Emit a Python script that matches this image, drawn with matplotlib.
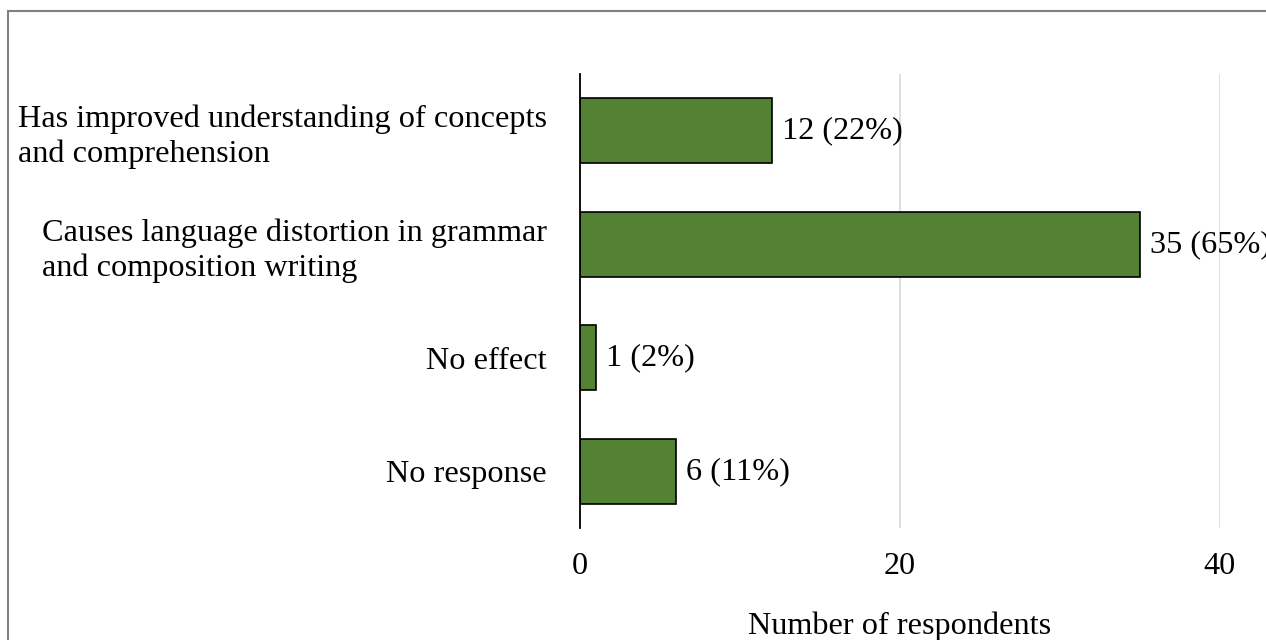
import matplotlib.pyplot as plt

# data
categories = [
    "Has improved understanding of concepts\nand comprehension",
    "Causes language distortion in grammar\nand composition writing",
    "No effect",
    "No response",
]
counts = [12, 35, 1, 6]
percents = [22, 65, 2, 11]
xticks = [0, 20, 40]

plt.rcParams['font.family'] = ['Liberation Serif', 'DejaVu Serif']
fs = 23.2

fig = plt.figure(figsize=(12.66, 6.4), dpi=100)
ax = fig.add_axes([580 / 1266, 1 - 528 / 640, 640 / 1266, 454 / 640])

y = list(range(len(categories)))
ax.barh(y, counts, height=0.57, color='#548235', edgecolor='black', linewidth=1.2, zorder=3)

for yi, c, p in zip(y, counts, percents):
    ax.text(c + 0.6, yi, f"{c} ({p}%)", va='center', ha='left', fontsize=fs, zorder=4)

ax.set_xlim(0, 40)
ax.set_ylim(3.5, -0.5)
ax.set_xticks(xticks)
ax.set_xticklabels([str(t) for t in xticks], fontsize=fs)
ax.set_yticks(y)
ax.set_yticklabels(categories, fontsize=fs, linespacing=1.25)
for lab in ax.get_yticklabels():
    lab.set_multialignment('left')
ax.tick_params(axis='y', length=0, pad=24)
ax.tick_params(axis='x', length=0, pad=17)

ax.grid(axis='x', color='#d9d9d9', linewidth=1.2, zorder=0)
for s in ['top', 'right', 'bottom']:
    ax.spines[s].set_visible(False)
ax.spines['left'].set_color('black')
ax.spines['left'].set_linewidth(1.3)
ax.spines['left'].set_zorder(5)

# axis title sits under the tick labels, centred on the plot area
fig.text((580 + 320) / 1266, 1 - 626 / 640, "Number of respondents",
         ha='center', va='center', fontsize=fs)

# outer border: only top and left edges show, the rest runs off the picture
border = plt.Rectangle((8 / 1266, -0.1), 1.2, 1.1 - 11 / 640, transform=fig.transFigure,
                       fill=False, edgecolor='#808080', linewidth=1.5)
fig.patches.append(border)

fig.savefig('out.png', dpi=100)
